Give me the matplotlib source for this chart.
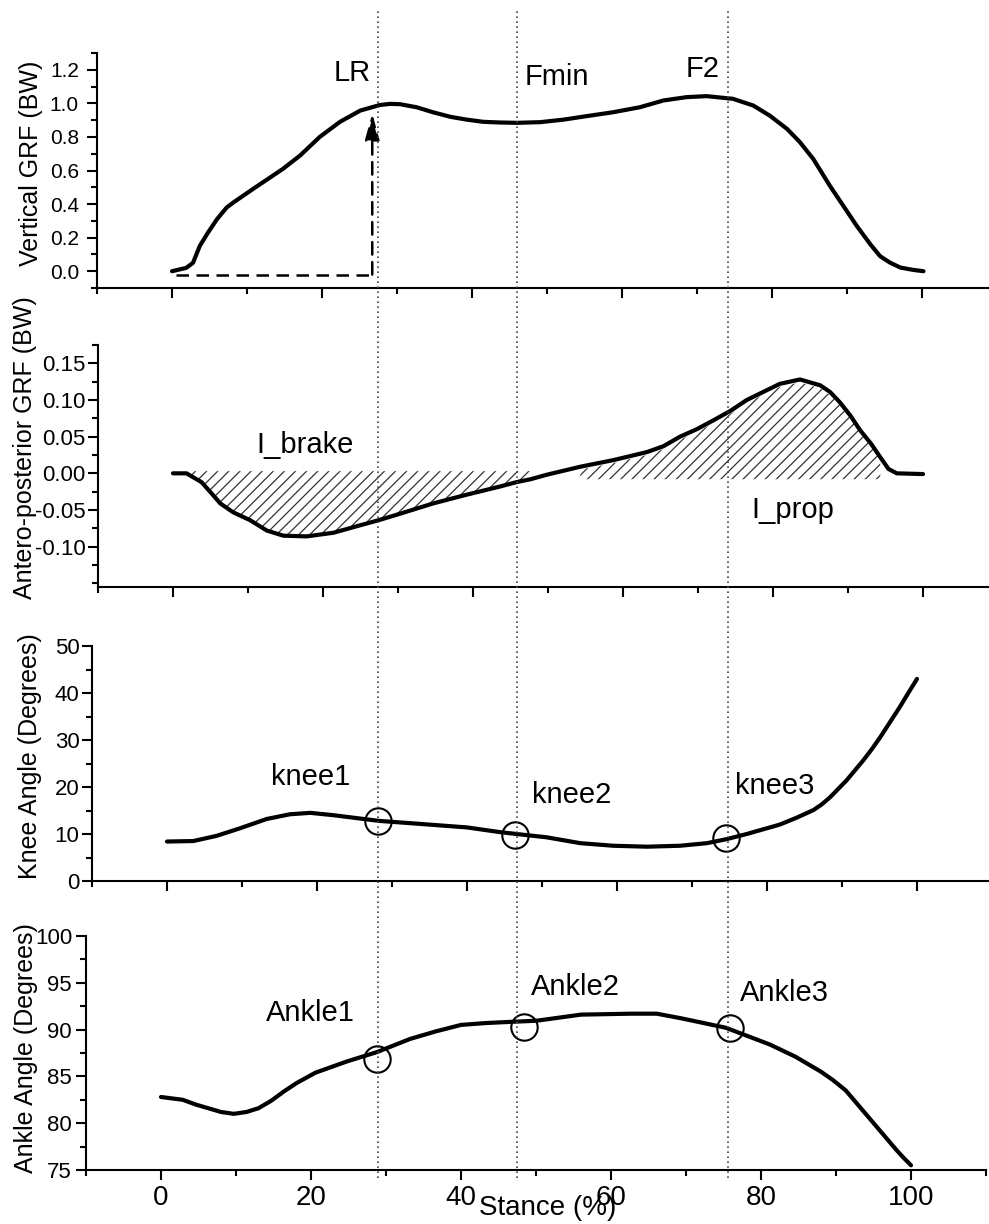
import numpy as np
import matplotlib.pyplot as plt
from matplotlib.ticker import MultipleLocator, FormatStrFormatter
from matplotlib.lines import Line2D

plt.rcParams['font.family'] = ['Liberation Sans', 'DejaVu Sans']
plt.rcParams['hatch.linewidth'] = 0.9

# vertical GRF (BW) vs stance (%)
vgrf_x = [0, 1.9, 2.8, 3.7, 4.8, 6.0, 7.3, 8.2, 10.8, 14.8, 17.1, 19.7, 22.4, 25.1, 27.7,
          29.1, 30.4, 32.6, 34.8, 37.1, 39.3, 41.5, 43.7, 46.0, 49.1, 52.2, 55.3, 58.8,
          62.4, 65.5, 68.6, 71.3, 74.8, 77.5, 79.7, 82.0, 83.7, 85.5, 87.7, 89.5, 91.3,
          93.1, 94.4, 95.7, 97.1, 98.8, 100.2]
vgrf_y = [0.0, 0.02, 0.05, 0.15, 0.23, 0.31, 0.38, 0.41, 0.49, 0.61, 0.69, 0.80, 0.89,
          0.957, 0.99, 0.997, 0.995, 0.977, 0.947, 0.92, 0.903, 0.89, 0.886, 0.884, 0.888,
          0.903, 0.924, 0.947, 0.977, 1.017, 1.037, 1.043, 1.027, 0.987, 0.927, 0.848,
          0.77, 0.669, 0.51, 0.39, 0.27, 0.161, 0.09, 0.052, 0.022, 0.008, 0.0]

# antero-posterior GRF (BW)
apgrf_x = [0, 1.8, 3.8, 5.2, 6.3, 8.0, 10.3, 12.5, 14.7, 17.8, 21.4, 24.9, 27.4, 30.3,
           34.7, 39.2, 43.6, 45.8, 47.7, 49.8, 54.3, 58.7, 63.2, 65.4, 67.6, 69.8, 72.0,
           74.3, 76.5, 78.7, 80.9, 83.6, 86.3, 87.6, 88.9, 90.3, 91.6, 93.1, 94.3, 95.4,
           96.5, 100.0]
apgrf_y = [0.0, 0.0, -0.012, -0.028, -0.041, -0.053, -0.064, -0.078, -0.085, -0.086,
           -0.081, -0.071, -0.064, -0.055, -0.041, -0.029, -0.018, -0.012, -0.008, -0.002,
           0.009, 0.018, 0.029, 0.037, 0.050, 0.060, 0.072, 0.085, 0.100, 0.111, 0.122,
           0.128, 0.120, 0.111, 0.097, 0.079, 0.059, 0.040, 0.022, 0.006, 0.0, -0.001]

# knee angle (degrees)
knee_x = [0, 3.5, 6.6, 9.7, 13.3, 16.4, 19.1, 22.2, 25.7, 28.2, 33.3, 40.0, 44.4, 46.6,
          50.6, 55.1, 59.5, 64.0, 68.4, 72.0, 74.6, 77.3, 81.7, 84.0, 86.2, 87.3, 88.4,
          89.5, 90.6, 91.7, 92.8, 94.0, 95.1, 96.4, 97.7, 98.8, 100.0]
knee_y = [8.4, 8.5, 9.6, 11.2, 13.2, 14.2, 14.5, 14.0, 13.3, 12.8, 12.2, 11.4, 10.4, 10.0,
          9.3, 8.05, 7.5, 7.3, 7.5, 8.05, 8.9, 10.0, 12.0, 13.5, 15.1, 16.3, 17.8, 19.6,
          21.4, 23.5, 25.6, 28.1, 30.6, 33.8, 37.0, 39.9, 43.0]

# ankle angle (degrees)
ankle_x = [0, 2.9, 4.6, 6.3, 8.0, 9.7, 11.4, 13.0, 14.7, 16.4, 18.1, 20.6, 24.8, 28.8,
           33.2, 36.6, 40.0, 43.3, 45.9, 50.1, 56.0, 62.7, 66.1, 69.4, 75.3, 81.2, 84.6,
           88.0, 89.6, 91.3, 93.0, 94.7, 96.4, 98.1, 98.9, 100.0]
ankle_y = [82.8, 82.5, 82.0, 81.6, 81.2, 81.0, 81.2, 81.6, 82.4, 83.4, 84.3, 85.4, 86.6,
           87.6, 89.0, 89.8, 90.5, 90.7, 90.8, 90.95, 91.6, 91.7, 91.7, 91.2, 90.2, 88.4,
           87.1, 85.5, 84.6, 83.5, 81.9, 80.3, 78.7, 77.1, 76.4, 75.5]

# marked events
knee_pts_x = [28.1, 46.4, 74.5]
knee_pts_y = [12.8, 9.8, 9.1]
knee_names = ['knee1', 'knee2', 'knee3']
ankle_pts_x = [28.8, 48.4, 75.9]
ankle_pts_y = [86.9, 90.3, 90.2]
ankle_names = ['Ankle1', 'Ankle2', 'Ankle3']
events = [28.9, 47.5, 75.6]  # in stance % (bottom panel)

# loading-rate construction
lr_x = 26.7
lr_base = -0.02
lr_top = 0.94

# impulse areas
brake_start = 1.8
brake_end = 47.7
brake_top = 0.003
prop_start = 52.7
prop_end = 94.3
prop_base = -0.008

W, H = 989, 1224
fig = plt.figure(figsize=(W / 100, H / 100), dpi=100)


def make_axes(left, top, bottom):
    return fig.add_axes([left / W, 1 - bottom / H, 900 / W, (bottom - top) / H])


ax1 = make_axes(97, 53, 288)
ax2 = make_axes(98, 345, 587)
ax3 = make_axes(92, 646, 881)
ax4 = make_axes(86, 936, 1170)
axes = [ax1, ax2, ax3, ax4]

line_kw = dict(color='black', lw=3, solid_joinstyle='round', solid_capstyle='round')

for ax in axes:
    ax.set_xlim(-10, 110)
    ax.spines['top'].set_visible(False)
    ax.spines['right'].set_visible(False)
    ax.spines['left'].set_linewidth(1.5)
    ax.spines['bottom'].set_linewidth(1.5)
    ax.xaxis.set_major_locator(MultipleLocator(20))
    ax.xaxis.set_minor_locator(MultipleLocator(10))
    ax.tick_params(which='major', direction='out', length=7, width=1.5)
    ax.tick_params(which='minor', direction='out', length=4, width=1.5)
    if ax is not ax4:
        ax.tick_params(axis='x', which='both', labelbottom=False)

# panel 1
ax1.plot(vgrf_x, vgrf_y, **line_kw)
ax1.plot([vgrf_x[0] + 0.5, lr_x], [lr_base, lr_base], color='black', lw=1.8, ls=(0, (5, 3)))
ax1.annotate('', xy=(lr_x, lr_top), xytext=(lr_x, lr_base),
             arrowprops=dict(arrowstyle='-|>,head_width=0.22,head_length=0.8',
                             color='black', lw=1.8, ls=(0, (5, 3)),
                             mutation_scale=20, shrinkA=0, shrinkB=0))
ax1.set_ylim(-0.1, 1.3)
ax1.set_yticks([0.0, 0.2, 0.4, 0.6, 0.8, 1.0, 1.2])
ax1.yaxis.set_minor_locator(MultipleLocator(0.1))
ax1.yaxis.set_major_formatter(FormatStrFormatter('%.1f'))
ax1.tick_params(axis='y', labelsize=15, pad=6)
ax1.text(24, 1.18, 'LR', fontsize=21, ha='center', va='center')
ax1.text(51.3, 1.156, 'Fmin', fontsize=21, ha='center', va='center')
ax1.text(70.8, 1.206, 'F2', fontsize=21, ha='center', va='center')
ax1.set_ylabel('Vertical GRF (BW)', fontsize=18, va='center')
ax1.yaxis.set_label_coords(-0.073, 0.53)

# panel 2
ap_x = np.array(apgrf_x)
ap_y = np.array(apgrf_y)
m = (ap_x >= brake_start) & (ap_x <= brake_end)
ax2.fill_between(ap_x[m], ap_y[m], brake_top, facecolor='none', edgecolor='#333333',
                 hatch='///', linewidth=0)
m = (ap_x >= prop_start) & (ap_x <= prop_end)
ax2.fill_between(ap_x[m], prop_base, ap_y[m] - 0.004, facecolor='none', edgecolor='#333333',
                 hatch='///', linewidth=0)
ax2.plot(ap_x, ap_y, **line_kw)
ax2.set_ylim(-0.155, 0.175)
ax2.set_yticks([-0.10, -0.05, 0.00, 0.05, 0.10, 0.15])
ax2.yaxis.set_minor_locator(MultipleLocator(0.025))
ax2.yaxis.set_major_formatter(FormatStrFormatter('%.2f'))
ax2.tick_params(axis='y', labelsize=16, pad=2)
ax2.text(17.6, 0.038, 'I_brake', fontsize=21, ha='center', va='center')
ax2.text(82.7, -0.05, 'I_prop', fontsize=21, ha='center', va='center')
ax2.set_ylabel('Antero-posterior GRF (BW)', fontsize=18, va='center')
ax2.yaxis.set_label_coords(-0.081, 0.574)

# panel 3
ax3.plot(knee_x, knee_y, **line_kw)
ax3.plot(knee_pts_x, knee_pts_y, 'o', ms=19, mfc='none', mec='black', mew=1.5)
ax3.set_ylim(0, 50)
ax3.yaxis.set_major_locator(MultipleLocator(10))
ax3.yaxis.set_minor_locator(MultipleLocator(5))
ax3.tick_params(axis='y', labelsize=16, pad=2)
for name, tx, ty in zip(knee_names, [19.1, 54.0, 81.0], [22.1, 18.2, 20.3]):
    ax3.text(tx, ty, name, fontsize=21, ha='center', va='center')
ax3.set_ylabel('Knee Angle (Degrees)', fontsize=18, va='center')
ax3.yaxis.set_label_coords(-0.069, 0.532)

# panel 4
ax4.plot(ankle_x, ankle_y, **line_kw)
ax4.plot(ankle_pts_x, ankle_pts_y, 'o', ms=19, mfc='none', mec='black', mew=1.5)
ax4.set_ylim(75, 100)
ax4.yaxis.set_major_locator(MultipleLocator(5))
ax4.yaxis.set_minor_locator(MultipleLocator(2.5))
ax4.tick_params(axis='y', labelsize=16, pad=3)
ax4.tick_params(axis='x', labelsize=20)
for name, tx, ty in zip(ankle_names, [19.9, 55.3, 83.1], [91.8, 94.5, 93.9]):
    ax4.text(tx, ty, name, fontsize=21, ha='center', va='center')
ax4.set_ylabel('Ankle Angle (Degrees)', fontsize=18, va='center')
ax4.yaxis.set_label_coords(-0.067, 0.52)
ax4.set_xlabel('Stance (%)', fontsize=20)
ax4.xaxis.set_label_coords(0.513, -0.107)

# event lines through all panels
to_fig = fig.transFigure.inverted()
for ev in events:
    xf, yf = to_fig.transform(ax4.transData.transform((ev, 75)))
    fig.add_artist(Line2D([xf, xf], [yf - 8 / H, 1 - 10 / H], transform=fig.transFigure,
                          color='#444444', lw=1.2, ls=(0, (1, 2))))

fig.savefig('out.png', dpi=100)
